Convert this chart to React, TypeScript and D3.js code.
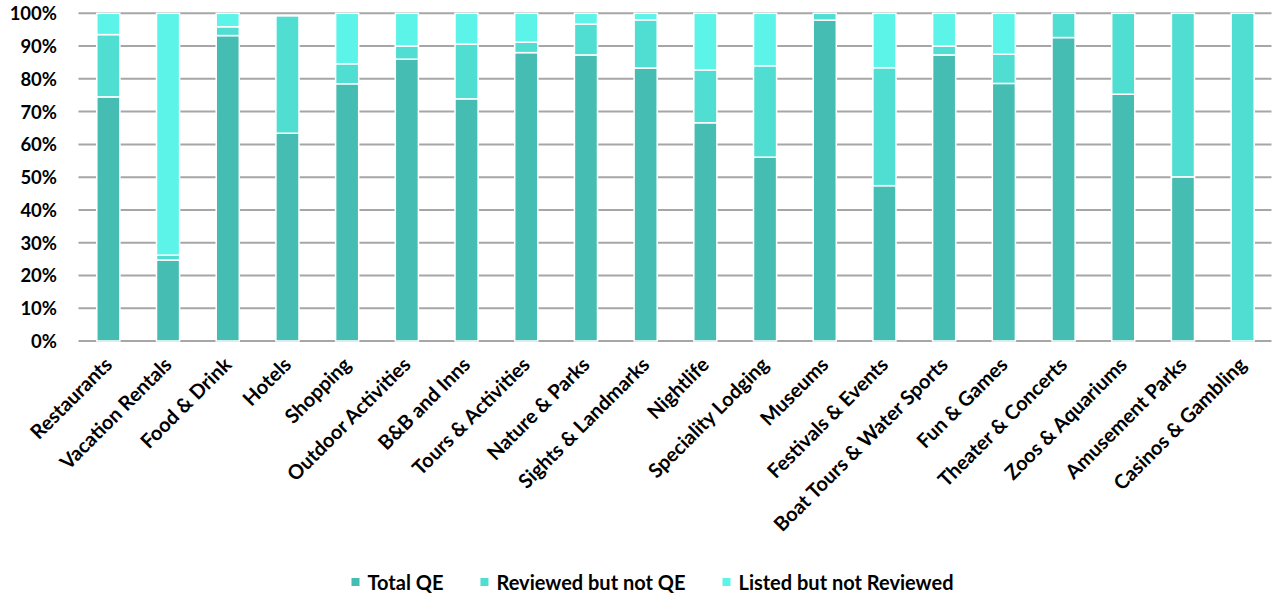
import React, { useEffect, useRef } from 'react';
import * as d3 from 'd3';

const categories = [
  'Restaurants', 'Vacation Rentals', 'Food & Drink', 'Hotels', 'Shopping',
  'Outdoor Activities', 'B&B and Inns', 'Tours & Activities', 'Nature & Parks',
  'Sights & Landmarks', 'Nightlife', 'Speciality Lodging', 'Museums',
  'Festivals & Events', 'Boat Tours & Water Sports', 'Fun & Games',
  'Theater & Concerts', 'Zoos & Aquariums', 'Amusement Parks', 'Casinos & Gambling',
];
const totalQE = [74.5, 24.7, 93.2, 63.4, 78.5, 86.0, 73.9, 88.0, 87.3, 83.3, 66.6, 56.1, 97.9, 47.4, 87.3, 78.6, 92.6, 75.3, 50.1, 0];
const reviewedNotQE = [19.0, 1.5, 2.7, 35.8, 6.1, 4.0, 16.7, 3.2, 9.4, 14.7, 16.1, 27.9, 2.1, 36.0, 2.7, 8.9, 7.4, 24.7, 49.9, 100];
const listedNotReviewed = [6.5, 73.8, 4.1, 0, 15.4, 10.0, 9.4, 8.8, 3.3, 2.0, 17.3, 16.0, 0, 16.6, 10.0, 12.5, 0, 0, 0, 0];
const seriesNames = ['Total QE', 'Reviewed but not QE', 'Listed but not Reviewed'];
const seriesColors = ['#46BDB2', '#50DED3', '#5CF4E9'];
const yTicks = [0, 10, 20, 30, 40, 50, 60, 70, 80, 90, 100];

const W = 1273;
const H = 594;
const FONT = 'Lato, "Open Sans", sans-serif';

export default function App() {
  const ref = useRef<SVGSVGElement | null>(null);

  useEffect(() => {
    const svg = d3.select(ref.current);
    svg.selectAll('*').remove();

    const left = 78.5, right = 1272.5, top = 13.3, bottom = 341;
    const x = d3.scaleBand<string>().domain(categories).range([left, right]).paddingInner(0.63).paddingOuter(0.315);
    const y = d3.scaleLinear().domain([0, 100]).range([bottom, top]);

    // gridlines
    svg.append('g').selectAll('line').data(yTicks).join('line')
      .attr('x1', left).attr('x2', right - 1)
      .attr('y1', (d) => y(d)).attr('y2', (d) => y(d))
      .attr('stroke', '#A6A6A6').attr('stroke-width', 2);

    // y labels
    svg.append('g').selectAll('text').data(yTicks).join('text')
      .attr('x', 57).attr('y', (d) => y(d))
      .attr('text-anchor', 'end').attr('dominant-baseline', 'central')
      .attr('font-family', FONT).attr('font-weight', 700).attr('font-size', 18.5)
      .attr('fill', '#000')
      .text((d) => `${d}%`);

    // stacked bars
    const rows = categories.map((c, i) => ({
      cat: c,
      [seriesNames[0]]: totalQE[i],
      [seriesNames[1]]: reviewedNotQE[i],
      [seriesNames[2]]: listedNotReviewed[i],
    }));
    const stack = d3.stack<any>().keys(seriesNames);
    const layers = stack(rows as any);
    const gBars = svg.append('g');
    layers.forEach((layer, li) => {
      gBars.append('g').selectAll('rect')
        .data(layer.filter((d) => d[1] - d[0] > 0))
        .join('rect')
        .attr('x', (d: any) => (x(d.data.cat) as number) - 0.5)
        .attr('width', x.bandwidth() + 1)
        .attr('y', (d) => y(d[1]))
        .attr('height', (d) => y(d[0]) - y(d[1]))
        .attr('fill', seriesColors[li])
        .attr('stroke', '#fff').attr('stroke-width', 1.5);
    });

    // category labels
    svg.append('g').selectAll('text').data(categories).join('text')
      .attr('transform', (d) => `translate(${(x(d) as number) + x.bandwidth() / 2 + 5},${366}) rotate(-45)`)
      .attr('text-anchor', 'end')
      .attr('font-family', FONT).attr('font-weight', 700).attr('font-size', 20)
      .attr('fill', '#000')
      .text((d) => d);

    // legend
    const lg = svg.append('g');
    const items = seriesNames.map((name, i) => {
      const g = lg.append('g');
      g.append('rect').attr('x', 0).attr('y', -4).attr('width', 8).attr('height', 8).attr('fill', seriesColors[i]);
      const t = g.append('text').attr('x', 16).attr('y', 0).attr('dominant-baseline', 'central')
        .attr('font-family', FONT).attr('font-weight', 700).attr('font-size', 20).attr('fill', '#000')
        .text(name);
      const w = (t.node() as SVGTextElement).getComputedTextLength();
      return { g, w: 16 + w };
    });
    const gap = 37;
    const total = d3.sum(items, (d) => d.w) + gap * (items.length - 1);
    let cx = 652.5 - total / 2;
    items.forEach((it) => {
      it.g.attr('transform', `translate(${cx},${582})`);
      cx += it.w + gap;
    });
  }, []);

  return (
    <svg ref={ref} width={W} height={H} style={{ position: 'absolute', left: 0, top: 0, background: '#fff' }} />
  );
}
